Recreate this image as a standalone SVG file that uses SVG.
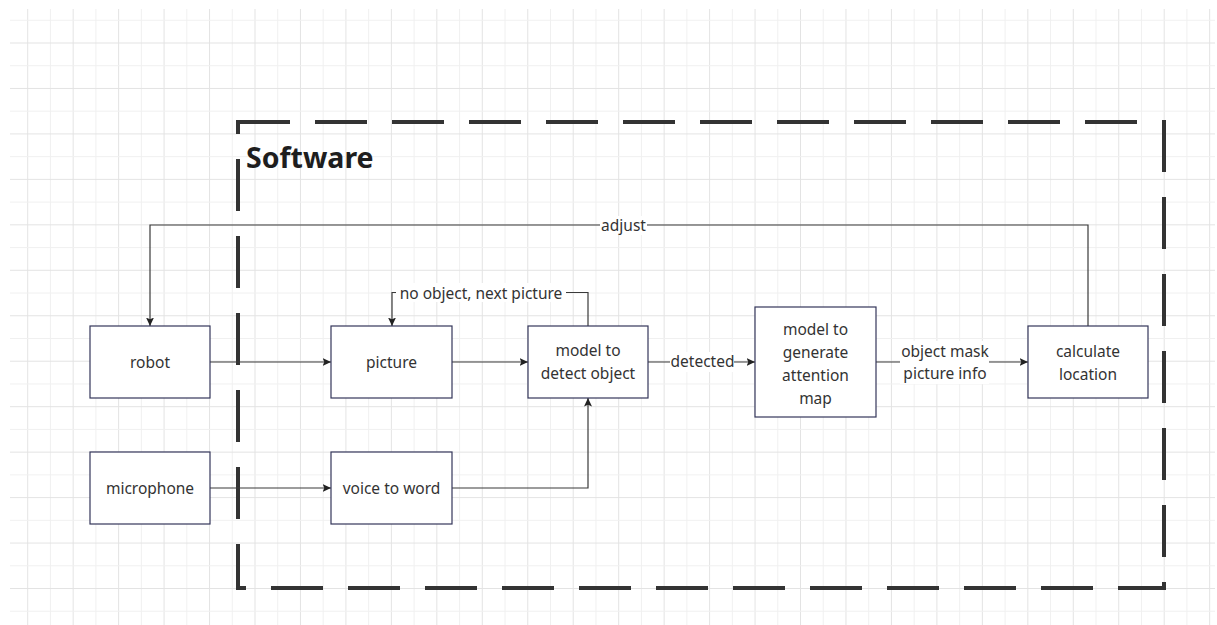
<svg xmlns="http://www.w3.org/2000/svg" width="1217" height="625" viewBox="0 0 1217 625">
<style>
.node rect{fill:#ffffff;stroke:#34365a;stroke-width:1.2}
.node text,.lbl text{font-family:"Noto Sans","Open Sans","Liberation Sans",sans-serif;font-size:15.5px;fill:#333333;text-anchor:middle}
.conn path{fill:none;stroke:#3a3a3a;stroke-width:1.2}
.lbl rect{fill:#ffffff;stroke:none}
.title{font-family:"Noto Sans","Open Sans","Liberation Sans",sans-serif;font-size:28.5px;font-weight:bold;fill:#1e1e1e}
</style>
<defs>
<pattern id="grid" patternUnits="userSpaceOnUse" x="27.2" y="42.5" width="45.46" height="45.46">
<rect x="0" y="0" width="1" height="45.46" fill="#e3e3e3"/>
<rect x="22.73" y="0" width="1" height="45.46" fill="#f0f0f0"/>
<rect x="0" y="22.73" width="45.46" height="1" fill="#f0f0f0"/>
<rect x="0" y="0" width="45.46" height="1" fill="#e3e3e3"/>
</pattern>
<marker id="arr" markerWidth="10" markerHeight="10" viewBox="0 0 10 10" refX="8.5" refY="5" orient="auto" markerUnits="userSpaceOnUse">
<path d="M0,1 L8.5,5 L0,9 L1.8,5 Z" fill="#222222"/>
</marker>
</defs>
<rect x="0" y="0" width="1217" height="625" fill="#ffffff"/>
<rect x="10" y="9" width="1205" height="616" fill="url(#grid)"/>

<g id="software-boundary">
<rect x="238" y="122" width="926" height="466" fill="none" stroke="#333333" stroke-width="4" stroke-dasharray="52 25"/>
<text class="title" x="246" y="168">Software</text>
</g>

<g id="connectors" class="conn">
<path d="M210,362 H331" marker-end="url(#arr)"/>
<path d="M210,488 H331" marker-end="url(#arr)"/>
<path d="M452,362 H528" marker-end="url(#arr)"/>
<path d="M452,488 H588 V398" marker-end="url(#arr)"/>
<path d="M648,362 H755" marker-end="url(#arr)"/>
<path d="M876,362 H1028" marker-end="url(#arr)"/>
<path d="M1088,326 V225 H150 V326" marker-end="url(#arr)"/>
<path d="M588,326 V292.5 H392 V326" marker-end="url(#arr)"/>
</g>

<g id="connector-labels" class="lbl">
<rect x="670" y="352" width="64" height="20"/>
<text x="702.5" y="367">detected</text>
<rect x="900" y="341" width="89" height="43"/>
<text x="945" y="356.5">object mask</text>
<text x="945" y="379">picture info</text>
<rect x="600" y="216" width="47" height="19"/>
<text x="623.5" y="231">adjust</text>
<rect x="396" y="283" width="170" height="19"/>
<text x="481" y="298.5">no object, next picture</text>
</g>

<g id="robot" class="node">
<rect x="90" y="326" width="120" height="72"/>
<text x="150" y="367.5">robot</text>
</g>
<g id="microphone" class="node">
<rect x="90" y="452" width="120" height="72"/>
<text x="150" y="493.5">microphone</text>
</g>
<g id="picture" class="node">
<rect x="331" y="326" width="121" height="72"/>
<text x="391.5" y="367.5">picture</text>
</g>
<g id="voice-to-word" class="node">
<rect x="331" y="452" width="121" height="72"/>
<text x="391.5" y="493.5">voice to word</text>
</g>
<g id="detect-object" class="node">
<rect x="528" y="326" width="120" height="72"/>
<text x="588" y="356">model to</text>
<text x="588" y="379">detect object</text>
</g>
<g id="attention-map" class="node">
<rect x="755" y="307" width="121" height="110"/>
<text x="815.5" y="334.5">model to</text>
<text x="815.5" y="357.5">generate</text>
<text x="815.5" y="380.5">attention</text>
<text x="815.5" y="403.5">map</text>
</g>
<g id="calculate-location" class="node">
<rect x="1028" y="326" width="120" height="72"/>
<text x="1088" y="356.5">calculate</text>
<text x="1088" y="379.5">location</text>
</g>
</svg>
